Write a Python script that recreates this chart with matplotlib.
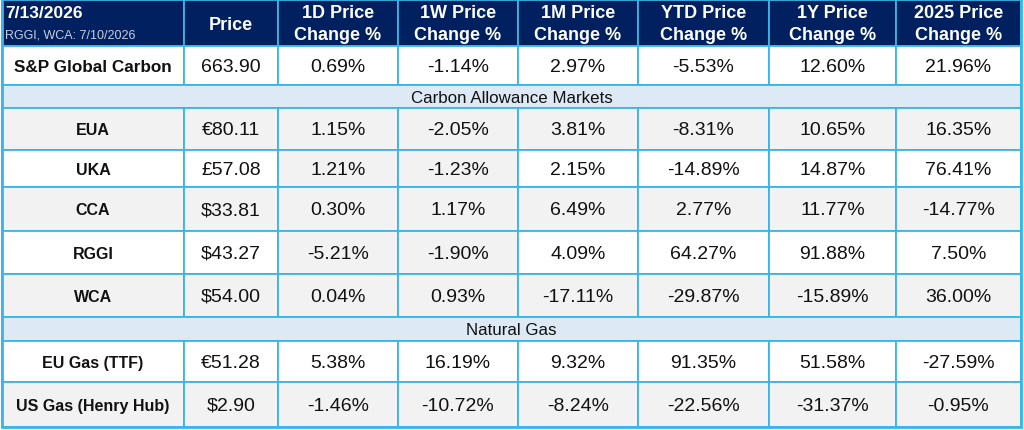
import matplotlib.pyplot as plt
from matplotlib.patches import Rectangle

plt.rcParams['font.family'] = ['Liberation Sans', 'DejaVu Sans']

# ====== DATA ======
AS_OF = "7/13/2026"
AS_OF_NOTE = "RGGI, WCA: 7/10/2026"
HEADERS = ["Price", "1D Price\nChange %", "1W Price\nChange %", "1M Price\nChange %",
           "YTD Price\nChange %", "1Y Price\nChange %", "2025 Price\nChange %"]

INDEX_NAME = "S&P Global Carbon"
INDEX_PRICE = "663.90"
INDEX_CHG = [0.69, -1.14, 2.97, -5.53, 12.60, 21.96]

CARBON_TITLE = "Carbon Allowance Markets"
CARBON_NAMES = ["EUA", "UKA", "CCA", "RGGI", "WCA"]
CARBON_PRICES = ["€80.11", "£57.08", "$33.81", "$43.27", "$54.00"]
CARBON_1D = [1.15, 1.21, 0.30, -5.21, 0.04]
CARBON_1W = [-2.05, -1.23, 1.17, -1.90, 0.93]
CARBON_1M = [3.81, 2.15, 6.49, 4.09, -17.11]
CARBON_YTD = [-8.31, -14.89, 2.77, 64.27, -29.87]
CARBON_1Y = [10.65, 14.87, 11.77, 91.88, -15.89]
CARBON_2025 = [16.35, 76.41, -14.77, 7.50, 36.00]

GAS_TITLE = "Natural Gas"
GAS_NAMES = ["EU Gas (TTF)", "US Gas (Henry Hub)"]
GAS_PRICES = ["€51.28", "$2.90"]
GAS_1D = [5.38, -1.46]
GAS_1W = [16.19, -10.72]
GAS_1M = [9.32, -8.24]
GAS_YTD = [91.35, -22.56]
GAS_1Y = [51.58, -31.37]
GAS_2025 = [-27.59, -0.95]

# ====== LAYOUT (pixels) ======
COL_X = [2, 184, 278, 398, 518, 638, 769, 896, 1021]
NAVY = "#002060"
GRID = "#38b6e8"
BAND = "#dde9f5"
GRAY = "#f2f2f2"
TXT = "#111111"


def pct(v):
    return f"{v:.2f}%"


fig = plt.figure(figsize=(10.24, 4.31), dpi=100)
ax = fig.add_axes([0, 0, 1, 1])
ax.set_xlim(0, 1024)
ax.set_ylim(431, 0)
ax.axis("off")


def cell(x0, x1, y0, y1, color):
    ax.add_patch(Rectangle((x0, y0), x1 - x0, y1 - y0, facecolor=color,
                           edgecolor=GRID, linewidth=1.3))


# header
hy0, hy1 = 0, 47
for i in range(8):
    cell(COL_X[i], COL_X[i + 1], hy0, hy1, NAVY)
ax.text(5, 13, AS_OF, color="white", fontsize=12.5, fontweight="bold",
        ha="left", va="center")
ax.text(5, 35, AS_OF_NOTE, color="#c8cde0", fontsize=9, ha="left", va="center")
for i, h in enumerate(HEADERS):
    xc = (COL_X[i + 1] + COL_X[i + 2]) / 2
    lines = h.split("\n")
    if len(lines) == 1:
        ax.text(xc, 25, lines[0], color="white", fontsize=13, fontweight="bold",
                ha="center", va="center")
    else:
        ax.text(xc, 13, lines[0], color="white", fontsize=13, fontweight="bold",
                ha="center", va="center")
        ax.text(xc, 35, lines[1], color="white", fontsize=13, fontweight="bold",
                ha="center", va="center")


def data_row(y0, y1, name, price, values, shades, name_size=11.5):
    yc = (y0 + y1) / 2 + 1
    for i in range(8):
        cell(COL_X[i], COL_X[i + 1], y0, y1, shades[i])
    ax.text((COL_X[0] + COL_X[1]) / 2, yc, name, fontsize=name_size,
            fontweight="bold", color=TXT, ha="center", va="center")
    ax.text((COL_X[1] + COL_X[2]) / 2, yc, price, fontsize=14,
            color=TXT, ha="center", va="center")
    for i, v in enumerate(values):
        ax.text((COL_X[i + 2] + COL_X[i + 3]) / 2, yc, pct(v), fontsize=14,
                color=TXT, ha="center", va="center")


def band(y0, y1, title):
    ax.add_patch(Rectangle((COL_X[0], y0), COL_X[-1] - COL_X[0], y1 - y0,
                           facecolor=BAND, edgecolor=GRID, linewidth=1.3))
    ax.text((COL_X[0] + COL_X[-1]) / 2, (y0 + y1) / 2 + 1, title, fontsize=12.2,
            color=TXT, ha="center", va="center")


data_row(47, 86, INDEX_NAME, INDEX_PRICE, INDEX_CHG, ["white"] * 8, name_size=12.3)
band(86, 109, CARBON_TITLE)

carbon_y = [109, 151, 188, 232, 275, 318]
for r in range(len(CARBON_NAMES)):
    vals = [CARBON_1D[r], CARBON_1W[r], CARBON_1M[r], CARBON_YTD[r],
            CARBON_1Y[r], CARBON_2025[r]]
    base = GRAY if r % 2 == 0 else "white"
    shades = [base, base, GRAY, GRAY, base, base, base, base]
    data_row(carbon_y[r], carbon_y[r + 1], CARBON_NAMES[r], CARBON_PRICES[r],
             vals, shades)

band(318, 342, GAS_TITLE)

gas_y = [342, 383, 428]
for r in range(len(GAS_NAMES)):
    vals = [GAS_1D[r], GAS_1W[r], GAS_1M[r], GAS_YTD[r], GAS_1Y[r], GAS_2025[r]]
    base = "white" if r == 0 else GRAY
    data_row(gas_y[r], gas_y[r + 1], GAS_NAMES[r], GAS_PRICES[r], vals, [base] * 8)

# outer frame
ax.add_patch(Rectangle((COL_X[0], 0), COL_X[-1] - COL_X[0], 428, facecolor="none",
                       edgecolor=GRID, linewidth=2))

fig.savefig("out.png", dpi=100)
